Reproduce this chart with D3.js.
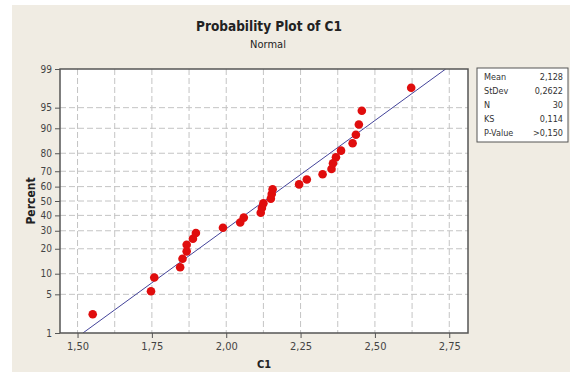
<!DOCTYPE html>
<html>
<head>
<meta charset="utf-8">
<script src="https://cdn.jsdelivr.net/npm/d3@7"></script>
<style>
  body { margin: 0; background: #fff; }
  svg text { font-family: "DejaVu Sans Condensed", "Liberation Sans", sans-serif; }
</style>
</head>
<body>
<div id="chart"></div>
<script>
// sorted sample C1
const values = [1.551, 1.747, 1.758, 1.845, 1.853, 1.867, 1.867, 1.888, 1.898, 1.989,
                2.047, 2.059, 2.116, 2.120, 2.125, 2.150, 2.153, 2.156, 2.245, 2.271,
                2.324, 2.354, 2.359, 2.369, 2.386, 2.425, 2.436, 2.446, 2.456, 2.622];
const xTicks = [1.50, 1.75, 2.00, 2.25, 2.50, 2.75];
const pctTicks = [1, 5, 10, 20, 30, 40, 50, 60, 70, 80, 90, 95, 99];
const statLabels = ['Mean', 'StDev', 'N', 'KS', 'P-Value'];
const statValues = ['2,128', '0,2622', '30', '0,114', '>0,150'];
const mean = 2.128, sd = 0.2622;

// inverse standard normal (Acklam)
function probit(p) {
  const a = [-39.69683028665376, 220.9460984245205, -275.9285104469687, 138.3577518672690, -30.66479806614716, 2.506628277459239];
  const b = [-54.47609879822406, 161.5858368580409, -155.6989798598866, 66.80131188771972, -13.28068155288572];
  const c = [-0.007784894002430293, -0.3223964580411365, -2.400758277161838, -2.549732539343734, 4.374664141464968, 2.938163982698783];
  const d = [0.007784695709041462, 0.3224671290700398, 2.445134137142996, 3.754408661907416];
  const pl = 0.02425;
  let q, r;
  if (p < pl) {
    q = Math.sqrt(-2 * Math.log(p));
    return (((((c[0]*q+c[1])*q+c[2])*q+c[3])*q+c[4])*q+c[5]) / ((((d[0]*q+d[1])*q+d[2])*q+d[3])*q+1);
  }
  if (p > 1 - pl) {
    q = Math.sqrt(-2 * Math.log(1 - p));
    return -(((((c[0]*q+c[1])*q+c[2])*q+c[3])*q+c[4])*q+c[5]) / ((((d[0]*q+d[1])*q+d[2])*q+d[3])*q+1);
  }
  q = p - 0.5; r = q * q;
  return (((((a[0]*r+a[1])*r+a[2])*r+a[3])*r+a[4])*r+a[5])*q / (((((b[0]*r+b[1])*r+b[2])*r+b[3])*r+b[4])*r+1);
}

const W = 570, H = 372;
const plot = { left: 60, right: 468, top: 69, bottom: 333 };
const comma = v => String(v).replace('.', ',');

const svg = d3.select('#chart').append('svg')
  .attr('width', W).attr('height', H);

svg.append('rect').attr('x', 12).attr('y', 5).attr('width', W - 12).attr('height', H - 5)
  .attr('fill', '#f0ece3');

const x = d3.scaleLinear().domain([1.441, 2.813]).range([plot.left, plot.right]);
const zMax = probit(0.99);
const y = d3.scaleLinear().domain([-zMax, zMax]).range([plot.bottom, plot.top]);

svg.append('rect')
  .attr('x', plot.left).attr('y', plot.top)
  .attr('width', plot.right - plot.left).attr('height', plot.bottom - plot.top)
  .attr('fill', '#fff');

// grid
const grid = svg.append('g').attr('stroke', '#c4c4c4').attr('stroke-dasharray', '6,3');
grid.selectAll('.vg').data(d3.range(1.5, 2.76, 0.125)).enter().append('line')
  .attr('x1', d => x(d)).attr('x2', d => x(d))
  .attr('y1', plot.top).attr('y2', plot.bottom);
grid.selectAll('.hg').data(pctTicks.slice(1, -1)).enter().append('line')
  .attr('x1', plot.left).attr('x2', plot.right)
  .attr('y1', d => y(probit(d / 100))).attr('y2', d => y(probit(d / 100)));

// fitted line
svg.append('clipPath').attr('id', 'clip').append('rect')
  .attr('x', plot.left).attr('y', plot.top)
  .attr('width', plot.right - plot.left).attr('height', plot.bottom - plot.top);
svg.append('line')
  .attr('clip-path', 'url(#clip)')
  .attr('x1', x(mean - zMax * sd)).attr('y1', y(-zMax))
  .attr('x2', x(mean + zMax * sd)).attr('y2', y(zMax))
  .attr('stroke', '#44449a').attr('stroke-width', 1);

// points
const n = values.length;
svg.selectAll('circle').data(values).enter().append('circle')
  .attr('cx', d => x(d))
  .attr('cy', (d, i) => y(probit((i + 1 - 0.3) / (n + 0.4))))
  .attr('r', 4.3)
  .attr('fill', '#e00d0d');

// frame
svg.append('rect')
  .attr('x', plot.left).attr('y', plot.top)
  .attr('width', plot.right - plot.left).attr('height', plot.bottom - plot.top)
  .attr('fill', 'none').attr('stroke', '#555').attr('stroke-width', 1.5);

// axes
const xAxis = svg.append('g')
  .attr('transform', `translate(0, ${plot.bottom})`)
  .call(d3.axisBottom(x).tickValues(xTicks).tickSize(5).tickPadding(4)
    .tickFormat(d => comma(d3.format('.2f')(d))));
const yAxis = svg.append('g')
  .attr('transform', `translate(${plot.left}, 0)`)
  .call(d3.axisLeft(y).tickValues(pctTicks.map(p => probit(p / 100))).tickSize(5).tickPadding(3)
    .tickFormat((d, i) => pctTicks[i]));
[xAxis, yAxis].forEach(g => {
  g.select('.domain').remove();
  g.selectAll('line').attr('stroke', '#555');
  g.selectAll('text').attr('fill', '#444').style('font-family', '"DejaVu Sans Condensed", "Liberation Sans", sans-serif');
});
xAxis.selectAll('text').style('font-size', '11px');
yAxis.selectAll('text').style('font-size', '10px');

// titles
svg.append('text').attr('x', 269).attr('y', 31).attr('text-anchor', 'middle')
  .style('font-size', '13.5px').style('font-weight', 'bold').attr('fill', '#222')
  .text('Probability Plot of C1');
svg.append('text').attr('x', 268).attr('y', 48).attr('text-anchor', 'middle')
  .style('font-size', '11px').attr('fill', '#222')
  .text('Normal');
svg.append('text').attr('x', 264).attr('y', 368).attr('text-anchor', 'middle')
  .style('font-size', '11px').style('font-weight', 'bold').attr('fill', '#222')
  .text('C1');
svg.append('text').attr('transform', 'translate(35, 201) rotate(-90)').attr('text-anchor', 'middle')
  .style('font-size', '12px').style('font-weight', 'bold').attr('fill', '#222')
  .text('Percent');

// stats box
const box = svg.append('g').attr('transform', 'translate(477, 68)');
box.append('rect').attr('width', 91).attr('height', 74)
  .attr('fill', '#fff').attr('stroke', '#555');
statLabels.forEach((s, i) => {
  box.append('text').attr('x', 7).attr('y', 12 + i * 14)
    .style('font-size', '9px').attr('fill', '#333').text(s);
  box.append('text').attr('x', 86).attr('y', 12 + i * 14).attr('text-anchor', 'end')
    .style('font-size', '9px').attr('fill', '#333').text(statValues[i]);
});
</script>
</body>
</html>
